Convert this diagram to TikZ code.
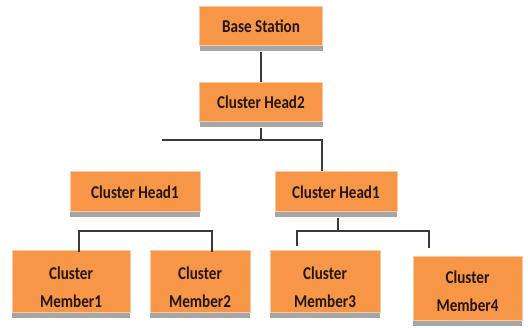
\documentclass[tikz,border=0pt]{standalone}
\usepackage{fontspec}
\setmainfont{Carlito}
\newfontfamily\condfont[FakeStretch=0.84]{Carlito}
\usetikzlibrary{shadows}
\definecolor{boxorange}{HTML}{F79646}
\definecolor{boxedge}{HTML}{FBC8A0}
\definecolor{shadowgray}{HTML}{A6A6A6}
\definecolor{txt}{HTML}{24160C}
\definecolor{linec}{HTML}{3A3A3A}
\begin{document}
\begin{tikzpicture}[x=1pt,y=-1pt,
  boxtext/.style={text=txt, font=\condfont\fontsize{18}{28}\selectfont\bfseries, align=center, inner sep=0pt},
  box/.style={rectangle, fill=boxorange, draw=boxedge, line width=1pt,
    drop shadow={shadow xshift=0pt, shadow yshift=-5pt, fill=shadowgray, opacity=1},
    boxtext},
  conn/.style={draw=linec, line width=1.2pt}]
\useasboundingbox (0,0) rectangle (528,328);
\node[box, minimum width=123pt, minimum height=39pt] (bs) at (261,26.5) {Base Station};
\node[box, minimum width=123pt, minimum height=39pt] (ch2) at (261,102.5) {Cluster Head2};
\node[box, minimum width=130pt, minimum height=40pt] (ch1l) at (135,192) {Cluster Head1};
\node[box, minimum width=122pt, minimum height=40pt] (ch1r) at (336,192) {Cluster Head1};
\node[box, minimum width=118pt, minimum height=62pt,
  label={[boxtext, yshift=-5pt]center:{Cluster\\Member1}}] (m1) at (71,282) {};
\node[box, minimum width=100pt, minimum height=62pt,
  label={[boxtext, yshift=-5pt]center:{Cluster\\Member2}}] (m2) at (200,282) {};
\node[box, minimum width=110pt, minimum height=62pt,
  label={[boxtext, yshift=-5pt]center:{Cluster\\Member3}}] (m3) at (325,282) {};
\node[box, minimum width=109pt, minimum height=64pt,
  label={[boxtext, yshift=-2pt]center:{Cluster\\Member4}}] (m4) at (467.5,289) {};
% connectors
\coordinate (f0) at (261,140);
\coordinate (fl) at (162,140);
\coordinate (fr) at (322,140);
\draw[conn] ([yshift=-6pt]bs.south) -- (ch2.north);
\draw[conn] ([yshift=-6pt]ch2.south) -- (f0);
\draw[conn] (fl) -- (fr) -- (fr |- ch1r.north);
\coordinate (la) at (79,231);
\coordinate (lb) at (212,231);
\draw[conn] ([yshift=-2pt]la |- m1.north) -- (la) -- (lb) -- ([yshift=-2pt]lb |- m2.north);
\coordinate (r0) at (338,231);
\coordinate (ra) at (297,231);
\coordinate (rb) at (429,231);
\draw[conn] ([yshift=-6pt]r0 |- ch1r.south) -- (r0);
\draw[conn] (ra) ++(0,15) -- (ra) -- (rb) -- ++(0,17);
\end{tikzpicture}
\end{document}
